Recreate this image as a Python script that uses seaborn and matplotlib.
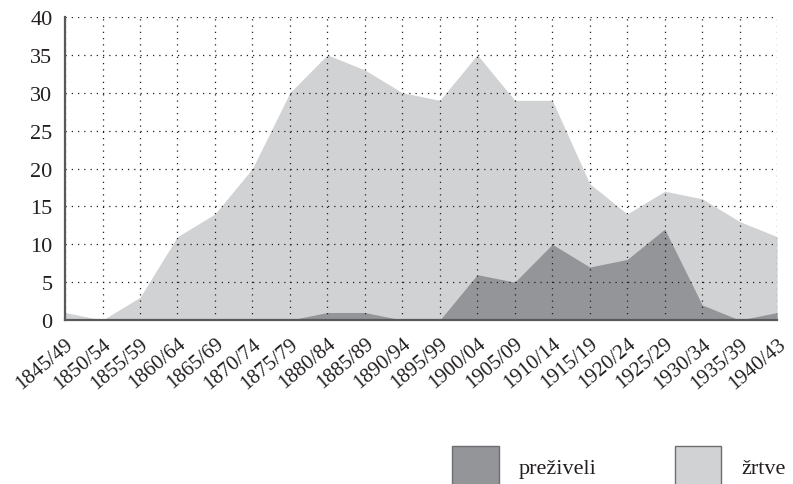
import numpy as np
import pandas as pd
import seaborn as sns
import matplotlib.pyplot as plt
from matplotlib.patches import Patch

periods = ['1845/49', '1850/54', '1855/59', '1860/64', '1865/69', '1870/74', '1875/79',
           '1880/84', '1885/89', '1890/94', '1895/99', '1900/04', '1905/09', '1910/14',
           '1915/19', '1920/24', '1925/29', '1930/34', '1935/39', '1940/43']
zrtve = [1, 0, 3, 11, 14, 20, 30, 35, 33, 30, 29, 35, 29, 29, 18, 14, 17, 16, 13, 11]
preziveli = [0, 0, 0, 0, 0, 0, 0, 1, 1, 0, 0, 6, 5, 10, 7, 8, 12, 2, 0, 1]

df = pd.DataFrame({'period': periods, 'zrtve': zrtve, 'preziveli': preziveli})
x = np.arange(len(df))

sns.set_theme(style='white')
plt.rcParams['font.family'] = ['Liberation Serif', 'DejaVu Serif']

light = '#d1d2d4'
dark = '#939598'
axis_col = '#58595b'
txt = '#231f20'

fig = plt.figure(figsize=(7.93, 4.85), dpi=100)
ax = fig.add_axes([0.082, 0.338, 0.898, 0.625])

ax.fill_between(x, 0, df['zrtve'], color=light, linewidth=0, zorder=1)
ax.fill_between(x, 0, df['preziveli'], color=dark, linewidth=0, zorder=2)

ax.set_xlim(0, len(df) - 1)
ax.set_ylim(0, 40)
ax.set_xticks(x)
ax.set_xticklabels(df['period'], rotation=40, ha='right', rotation_mode='anchor')
ax.set_yticks(range(0, 41, 5))
ax.tick_params(axis='both', labelsize=16, labelcolor=txt, color=axis_col,
               direction='out', length=6, width=1.2)
ax.tick_params(axis='x', pad=4, labelsize=15)
ax.tick_params(axis='y', pad=3)

ax.grid(True, linestyle=(0, (1, 4)), color=txt, linewidth=0.9, zorder=3)
ax.set_axisbelow(False)
for s in ['top', 'right']:
    ax.spines[s].set_visible(False)
for s in ['left', 'bottom']:
    ax.spines[s].set_color(axis_col)
    ax.spines[s].set_linewidth(1.6)
    ax.spines[s].set_zorder(4)
ax.set_xlabel('')
ax.set_ylabel('')

handles = [Patch(facecolor=dark, edgecolor='#6d6e71', linewidth=1.0, label='preživeli'),
           Patch(facecolor=light, edgecolor='#6d6e71', linewidth=1.0, label='žrtve')]
leg = fig.legend(handles=handles, loc='center left', bbox_to_anchor=(0.545, 0.037),
                 ncol=2, frameon=False, fontsize=16, handlelength=2.1, handleheight=2.45,
                 handletextpad=0.9, columnspacing=3.5)
for t in leg.get_texts():
    t.set_color(txt)

fig.savefig('out.png', dpi=100)
